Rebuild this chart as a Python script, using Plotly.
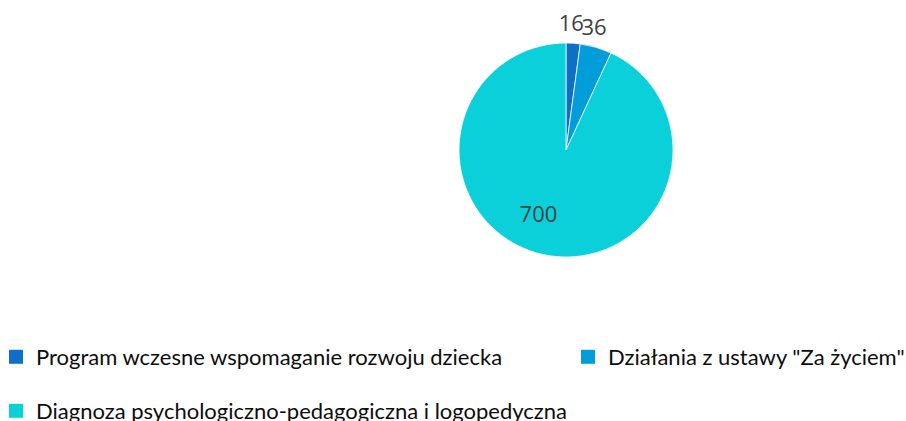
import plotly.graph_objects as go

labels = ["Program wczesne wspomaganie rozwoju dziecka",
          "Działania z ustawy \"Za życiem\"",
          "Diagnoza psychologiczno-pedagogiczna i logopedyczna"]
values = [16, 36, 700]
colors = ["#0F6FC6", "#009DD9", "#0BD0D9"]

W, H = 906, 421
cx, cy, r = 566, 150, 107


def domain(dx=0, dy=0):
    x0, x1 = cx + dx - r, cx + dx + r
    y0, y1 = H - (cy + dy) - r, H - (cy + dy) + r
    return dict(x=[x0 / W, x1 / W], y=[y0 / H, y1 / H])


label_font = dict(size=22, color="#404040", family="Open Sans")

fig = go.Figure()
# visible pie
fig.add_trace(go.Pie(
    labels=labels, values=values, sort=False, direction="clockwise", rotation=0,
    marker=dict(colors=colors, line=dict(color="white", width=0.75)),
    textinfo="none", domain=domain(), showlegend=False, hoverinfo="label+value",
))
# value-label layers (one per slice so labels are placed independently)
label_layers = [
    (["outside", "none", "none"], -22, -6),
    (["none", "outside", "none"], -22, -7),
    (["none", "none", "inside"], -16, 11),
]
for tp, dx, dy in label_layers:
    fig.add_trace(go.Pie(
        labels=labels, values=values, sort=False, direction="clockwise", rotation=0,
        marker=dict(colors=["rgba(0,0,0,0)"] * 3, line=dict(width=0)),
        textinfo="value", textposition=tp, textfont=label_font,
        insidetextorientation="horizontal",
        domain=domain(dx, dy), showlegend=False, hoverinfo="skip",
    ))

legend_names = ["legend", "legend2", "legend3"]
for name, lab, col in zip(legend_names, labels, colors):
    fig.add_trace(go.Scatter(
        x=[None], y=[None], mode="markers", name=lab, legend=name,
        marker=dict(symbol="square", size=14, color=col), hoverinfo="skip",
    ))

leg_font = dict(size=22, color="#0d0d0d", family="Lato")
common = dict(orientation="h", xanchor="left", yanchor="middle", font=leg_font,
              itemwidth=30, bgcolor="rgba(0,0,0,0)")
fig.update_layout(
    width=W, height=H,
    margin=dict(l=0, r=0, t=0, b=0, autoexpand=False),
    paper_bgcolor="white", plot_bgcolor="white",
    xaxis=dict(visible=False), yaxis=dict(visible=False),
    showlegend=True,
    legend=dict(x=-4 / W, y=1 - 357 / H, **common),
    legend2=dict(x=568 / W, y=1 - 357 / H, **common),
    legend3=dict(x=-4 / W, y=1 - 411 / H, **common),
)
fig.write_html("out.html", config={"displayModeBar": False},
               post_script="document.body.style.margin='0';")
